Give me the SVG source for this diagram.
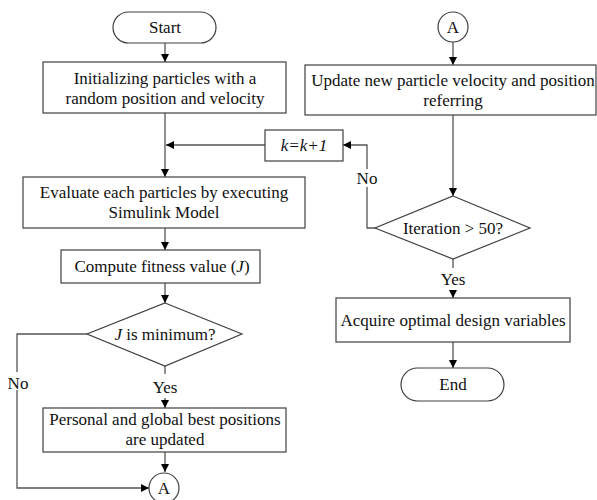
<svg xmlns="http://www.w3.org/2000/svg" width="597" height="500" viewBox="0 0 597 500">
<defs>
<marker id="ah" viewBox="0 0 10 10" refX="10" refY="5" markerWidth="8" markerHeight="8" markerUnits="userSpaceOnUse" orient="auto">
<path d="M0,0 L10,5 L0,10 Z" fill="#000"/>
</marker>
<style>
.box{fill:#fff;stroke:#404040;stroke-width:1.2}
.ln{fill:none;stroke:#555;stroke-width:1.3}
.t{font-family:"Liberation Serif","Times New Roman",serif;font-size:17px;fill:#111;text-anchor:middle}
.bg{fill:#fff;stroke:none}
</style>
</defs>
<rect width="597" height="500" fill="#fff"/>
<g id="connectors">
<line class="ln" x1="165" y1="43" x2="165" y2="62" marker-end="url(#ah)"/>
<line class="ln" x1="165" y1="113" x2="165" y2="177" marker-end="url(#ah)"/>
<line class="ln" x1="265" y1="145" x2="166" y2="145" marker-end="url(#ah)"/>
<line class="ln" x1="165" y1="228" x2="165" y2="250" marker-end="url(#ah)"/>
<line class="ln" x1="165" y1="283" x2="165" y2="303" marker-end="url(#ah)"/>
<line class="ln" x1="165" y1="366" x2="165" y2="374"/>
<line class="ln" x1="165" y1="398" x2="165" y2="408" marker-end="url(#ah)"/>
<line class="ln" x1="165" y1="452" x2="165" y2="472" marker-end="url(#ah)"/>
<polyline class="ln" points="87,334 17,334 17,488 149,488" marker-end="url(#ah)"/>
<line class="ln" x1="453" y1="42" x2="453" y2="65" marker-end="url(#ah)"/>
<line class="ln" x1="453" y1="115" x2="453" y2="196" marker-end="url(#ah)"/>
<polyline class="ln" points="375,228 367,228 367,145 343,145" marker-end="url(#ah)"/>
<line class="ln" x1="453" y1="259" x2="453" y2="268"/>
<line class="ln" x1="453" y1="290" x2="453" y2="298" marker-end="url(#ah)"/>
<line class="ln" x1="453" y1="342" x2="453" y2="368" marker-end="url(#ah)"/>
<rect class="bg" x="6" y="372" width="23" height="18"/>
<rect class="bg" x="356" y="169" width="23" height="18"/>
<text class="t" x="165" y="393">Yes</text>
<text class="t" x="18" y="389">No</text>
<text class="t" x="367" y="184">No</text>
<text class="t" x="453" y="285">Yes</text>
</g>
<g id="start">
<rect class="box" x="113" y="12" width="103" height="31" rx="15.5"/>
<text class="t" x="165" y="33">Start</text>
</g>
<g id="init">
<rect class="box" x="43" y="62" width="243" height="51"/>
<text class="t" x="165" y="84">Initializing particles with a</text>
<text class="t" x="165" y="104">random position and velocity</text>
</g>
<g id="kinc">
<rect class="box" x="265" y="130" width="78" height="31"/>
<text class="t" x="304" y="151" font-style="italic">k=k+1</text>
</g>
<g id="evaluate">
<rect class="box" x="23" y="177" width="282" height="51"/>
<text class="t" x="164" y="198">Evaluate each particles by executing</text>
<text class="t" x="164" y="218">Simulink Model</text>
</g>
<g id="compute">
<rect class="box" x="61" y="250" width="199" height="33"/>
<text class="t" x="162" y="272">Compute fitness value (<tspan font-style="italic">J</tspan>)</text>
</g>
<g id="jmin">
<polygon class="box" points="165,303 242,334 165,366 87,334"/>
<text class="t" x="165" y="340"><tspan font-style="italic">J</tspan> is minimum?</text>
</g>
<g id="personal">
<rect class="box" x="43" y="408" width="243" height="44"/>
<text class="t" x="165" y="425">Personal and global best positions</text>
<text class="t" x="165" y="445">are updated</text>
</g>
<g id="a1">
<circle class="box" cx="164" cy="488" r="15"/>
<text class="t" x="164" y="494">A</text>
</g>
<g id="a2">
<circle class="box" cx="453" cy="27" r="15"/>
<text class="t" x="453" y="33">A</text>
</g>
<g id="update">
<rect class="box" x="305" y="65" width="291" height="50"/>
<text class="t" x="453" y="86">Update new particle velocity and position</text>
<text class="t" x="453" y="106">referring</text>
</g>
<g id="iter">
<polygon class="box" points="453,196 530,228 453,259 375,228"/>
<text class="t" x="453" y="234">Iteration &gt; 50?</text>
</g>
<g id="acquire">
<rect class="box" x="336" y="298" width="234" height="44"/>
<text class="t" x="453" y="326">Acquire optimal design variables</text>
</g>
<g id="end">
<rect class="box" x="401" y="368" width="103" height="33" rx="16.5"/>
<text class="t" x="453" y="390">End</text>
</g>
</svg>
